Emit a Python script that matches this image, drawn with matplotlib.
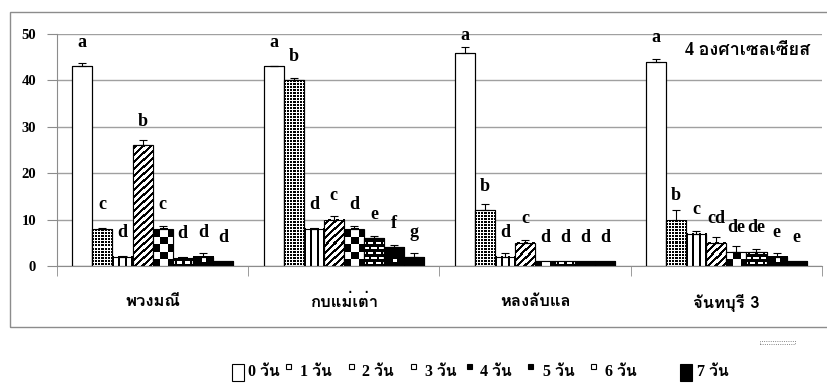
import numpy as np
import matplotlib
matplotlib.use('Agg')
import matplotlib.pyplot as plt
from matplotlib import font_manager, ft2font
from matplotlib.patches import Rectangle

cultivars = ['พวงมณี', 'กบแม่เต่า', 'หลงลับแล', 'จันทบุรี 3']
days = ['0 วัน', '1 วัน', '2 วัน', '3 วัน', '4 วัน', '5 วัน', '6 วัน', '7 วัน']

# mean values for day 0..7 in each cultivar
puang_mani = [43, 8, 2, 26, 8, 1.8, 2, 1]
kob_mae_tao = [43, 40, 8, 10, 8, 6, 4, 2]
long_lab_lae = [46, 12, 2, 5, 1, 1, 1, 1]
chanthaburi3 = [44, 10, 7, 5, 3, 3, 2, 1]

# upper error (SE)
puang_mani_err = [0.7, 0.2, 0.1, 1.2, 0.6, 0.1, 0.8, 0]
kob_mae_tao_err = [0.1, 0.6, 0.1, 0.7, 0.6, 0.5, 0.5, 0.7]
long_lab_lae_err = [1.1, 1.3, 0.7, 0.5, 0, 0, 0, 0]
chanthaburi3_err = [0.7, 2.0, 0.6, 1.2, 1.3, 0.6, 0.7, 0]

# DMRT letters
puang_mani_sig = ['a', 'c', 'd', 'b', 'c', 'd', 'd', 'd']
kob_mae_tao_sig = ['a', 'b', 'd', 'c', 'd', 'e', 'f', 'g']
long_lab_lae_sig = ['a', 'b', 'd', 'c', 'd', 'd', 'd', 'd']
chanthaburi3_sig = ['a', 'b', 'c', 'cd', 'de', 'de', 'e', 'e']

means = [puang_mani, kob_mae_tao, long_lab_lae, chanthaburi3]
errs = [puang_mani_err, kob_mae_tao_err, long_lab_lae_err, chanthaburi3_err]
sigs = [puang_mani_sig, kob_mae_tao_sig, long_lab_lae_sig, chanthaburi3_sig]


def find_thai_font():
    # families that carry Thai glyphs, with the weights they come in
    weights = {}
    for f in font_manager.fontManager.ttflist:
        try:
            cmap = ft2font.FT2Font(f.fname).get_charmap()
        except Exception:
            continue
        if 0x0E27 in cmap and 0x0E19 in cmap and 0x0E31 in cmap:
            w = f.weight if isinstance(f.weight, int) else 400
            weights.setdefault(f.name, set()).add(w)
    if not weights:
        return None
    prefs = ['Kinnari', 'Norasi', 'Laksaman', 'TH Sarabun New', 'Noto Serif Thai',
             'Noto Sans Thai', 'Garuda', 'Loma', 'Waree', 'Umpush']
    bold = [n for n in weights if max(weights[n]) >= 600]
    for pool in (bold, list(weights)):
        for p in prefs:
            if p in pool:
                return p
        if pool:
            return pool[0]
    return None


thai = find_thai_font()
serif = ['Liberation Serif', 'DejaVu Serif']
thai_family = ([thai] if thai else []) + ['Liberation Serif', 'DejaVu Sans']
# digits in the serif face, Thai falls through to the Thai family
mixed_family = ['Liberation Serif'] + ([thai] if thai else []) + ['DejaVu Sans']

W, H = 828, 390
fig = plt.figure(figsize=(W / 100, H / 100), dpi=100)


def fx(x):
    return x / W


def fy(y):
    return 1 - y / H


# chart frame
fig.patches.append(Rectangle((fx(10), fy(327)), 1.0, (327 - 12) / H,
                             transform=fig.transFigure, fill=False,
                             edgecolor='#8c8c8c', lw=1))

ax = fig.add_axes([fx(57), fy(266), (822 - 57) / W, (266 - 34) / H])
ax.set_xlim(-0.5, 3.5)
ax.set_ylim(0, 50)
ax.set_autoscale_on(False)

bar_w = 0.105
n_days = len(days)


def tile_dots():
    t = np.zeros((3, 3))
    t[:2, :2] = 1
    return t


def tile_vlines():
    return np.array([[1, 1, 0, 0, 0, 0]], dtype=float)


def tile_diag():
    r, c = np.mgrid[0:7, 0:7]
    return ((r + c) % 7 < 3).astype(float)


def tile_checker():
    r, c = np.mgrid[0:14, 0:14]
    return (((r // 7) + (c // 7)) % 2).astype(float)


def tile_brick():
    r, c = np.mgrid[0:10, 0:7]
    shift = np.where((r // 5) % 2 == 1, 3, 0)
    white = np.isin(r % 5, [1, 2]) & (((c + shift) % 7) < 5)
    return (~white).astype(float)


def tile_sparse():
    t = np.ones((16, 16))
    t[9:12, 9:12] = 0
    return t


patterns = [None, tile_dots(), tile_vlines(), tile_diag(), tile_checker(),
            tile_brick(), tile_sparse(), None]
faces = ['white'] * 7 + ['black']


def fill_bar(x0, x1, top, tile):
    (px0, py0), (px1, py1) = ax.transData.transform([(x0, 0), (x1, top)])
    w = max(int(round(px1 - px0)), 1)
    h = max(int(round(py1 - py0)), 1)
    reps = (h // tile.shape[0] + 2, w // tile.shape[1] + 2)
    img = np.tile(tile, reps)
    img = img[img.shape[0] - h:, :w]
    ax.imshow(img, cmap='gray_r', vmin=0, vmax=1, extent=(x0, x1, 0, top),
              aspect='auto', interpolation='nearest', zorder=2)


for g in range(len(cultivars)):
    for d in range(n_days):
        v = means[g][d]
        xc = g + (d - (n_days - 1) / 2) * bar_w
        x0 = xc - bar_w / 2
        ax.bar(xc, v, width=bar_w, color=faces[d], edgecolor='black',
               linewidth=0.8, zorder=2)
        if patterns[d] is not None:
            fill_bar(x0, x0 + bar_w, v, patterns[d])
        ax.add_patch(Rectangle((x0, 0), bar_w, v, fill=False,
                               edgecolor='black', lw=0.8, zorder=3))
        e = errs[g][d]
        if e > 0:
            ax.errorbar(xc, v, yerr=[[0], [e]], fmt='none', ecolor='black',
                        elinewidth=0.8, capsize=3, capthick=0.8, zorder=4)
        ax.text(xc, min(v + 5.2, 49.6), sigs[g][d], ha='center', va='center',
                fontsize=13, fontweight='bold', family=serif, zorder=5)

ax.set_xlim(-0.5, 3.5)
ax.set_ylim(0, 50)

ax.set_yticks([0, 10, 20, 30, 40, 50])
ax.tick_params(axis='y', length=7, color='#8c8c8c', pad=8)
for lab in ax.get_yticklabels():
    lab.set_fontfamily(serif)
    lab.set_fontweight('bold')
    lab.set_fontsize(10.5)

ax.set_xticks(range(len(cultivars)))
ax.set_xticklabels(cultivars, family=thai_family, fontweight='bold', fontsize=12)
ax.set_xticks([-0.5, 0.5, 1.5, 2.5, 3.5], minor=True)
ax.tick_params(axis='x', which='major', length=0, pad=20)
ax.tick_params(axis='x', which='minor', length=7, color='#8c8c8c')

ax.yaxis.grid(True, color='#a0a0a0', lw=1)
ax.set_axisbelow(True)
for s in ['top', 'right']:
    ax.spines[s].set_visible(False)
for s in ['left', 'bottom']:
    ax.spines[s].set_color('#8c8c8c')

ax.text(0.985, 0.965, '4 องศาเซลเซียส', transform=ax.transAxes, ha='right', va='top',
        fontsize=13, fontweight='bold', family=mixed_family, zorder=6,
        bbox=dict(facecolor='white', edgecolor='none', pad=2))

# legend row
leg_marker_x = [232, 286, 349, 411, 467, 528, 591, 680]
leg_text_x = [248, 300, 362, 425, 480, 543, 605, 697]
leg_y = 372
small_faces = ['white', 'white', 'white', 'white', 'black', 'black', 'white', 'black']
for d in range(n_days):
    if d in (0, n_days - 1):
        rect = Rectangle((fx(leg_marker_x[d]), fy(381)), 12 / W, 17 / H,
                         transform=fig.transFigure, facecolor=faces[d],
                         edgecolor='black', lw=0.8)
    else:
        rect = Rectangle((fx(leg_marker_x[d]), fy(369)), 5 / W, 5 / H,
                         transform=fig.transFigure, facecolor=small_faces[d],
                         edgecolor='black', lw=0.8)
    fig.patches.append(rect)
    fig.text(fx(leg_text_x[d]), fy(leg_y), days[d], ha='left', va='center',
             fontsize=11.5, fontweight='bold', family=mixed_family)

# small stray legend key
fig.patches.append(Rectangle((fx(760), fy(344)), 35 / W, 3 / H,
                             transform=fig.transFigure, facecolor='white',
                             edgecolor='#606060', lw=0.6, linestyle=':'))

fig.savefig('out.png', dpi=100)
